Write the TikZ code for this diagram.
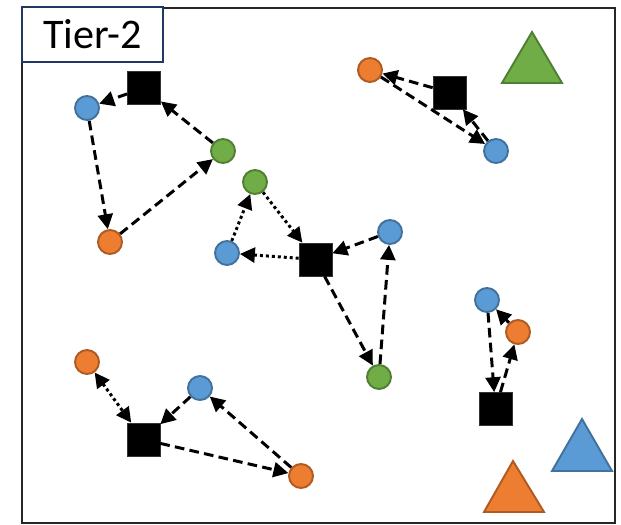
\documentclass[tikz,border=0pt]{standalone}
\usepackage{fontspec}
\newfontfamily\tierfont{Carlito}
\usetikzlibrary{arrows.meta}
\definecolor{ueblue}{HTML}{5B9BD5}
\definecolor{ueblueline}{HTML}{41719C}
\definecolor{ueorange}{HTML}{ED7D31}
\definecolor{ueorangeline}{HTML}{AE5A21}
\definecolor{uegreen}{HTML}{70AD47}
\definecolor{uegreenline}{HTML}{507E32}
\definecolor{tierline}{HTML}{1F3864}

\begin{document}
\begin{tikzpicture}
[x=0.02cm,y=-0.02cm,>={Triangle[length=8.5pt,width=8.5pt]},
ue/.style={circle,draw,line width=1.1pt,inner sep=0pt,minimum size=0.48cm},
blue/.style={ue,fill=ueblue,draw=ueblueline},
orange/.style={ue,fill=ueorange,draw=ueorangeline},
green/.style={ue,fill=uegreen,draw=uegreenline},
relay/.style={rectangle,fill=black,draw=black!80,inner sep=0pt,minimum size=0.66cm},
link/.style={->,line width=1.7pt,dash pattern=on 5.5pt off 3pt},
dlink/.style={->,line width=1.7pt,dash pattern=on 1.7pt off 1.7pt},
bs/.style={line width=1.1pt,line join=miter},]

\useasboundingbox (0,0) rectangle (621,524);

%Frame and tier label
\draw[line width=1.2pt,black!85] (22,8) rectangle (615,523);
\node (tier) at (92.5,34.5)[draw=tierline,fill=white,line width=0.8pt,minimum width=2.82cm,minimum height=1.1cm] {\tierfont\fontsize{24}{24}\selectfont Tier-2};

%Base stations
\draw[bs,fill=uegreen,draw=uegreenline] (502,83) -- (532,32) -- (562,83) -- cycle;
\draw[bs,fill=ueblue,draw=ueblueline] (552,471) -- (582,419) -- (612,471) -- cycle;
\draw[bs,fill=ueorange,draw=ueorangeline] (484,512) -- (513,461) -- (544,512) -- cycle;

%Group A
\node (R1) at (144,88)[relay] {};
\node (B1) at (87,108)[blue] {};
\node (O1) at (110,242)[orange] {};
\node (G1) at (223,151)[green] {};
\draw[link] (R1) -- (B1);
\draw[link] (B1) -- (O1);
\draw[link] (O1) -- (G1);
\draw[link] (G1) -- (R1);

%Group B
\node (R2) at (315.5,259.5)[relay] {};
\node (G2) at (255,182)[green] {};
\node (B2) at (227,253)[blue] {};
\node (B3) at (390,232)[blue] {};
\node (G3) at (379,377)[green] {};
\draw[dlink] (B2) -- (G2);
\draw[dlink] (G2) -- (R2);
\draw[dlink] (R2) -- (B2);
\draw[link] (B3) -- (R2);
\draw[link] (R2) -- (G3);
\draw[link] (G3) -- (B3);

%Group C
\node (R3) at (449.5,92.5)[relay] {};
\node (O3) at (370,70)[orange] {};
\node (B4) at (496,151)[blue] {};
\draw[link] (R3) -- (O3);
\draw[link] (O3) -- (B4);
\draw[link] (B4) -- (R3);

%Group D
\node (R4) at (495.5,409)[relay] {};
\node (B5) at (487,300)[blue] {};
\node (O4) at (518,332)[orange] {};
\draw[link] (B5) -- (R4);
\draw[link] (R4) -- (O4);
\draw[link] (O4) -- (B5);

%Group E
\node (R5) at (143.5,439.5)[relay] {};
\node (O5) at (87,362)[orange] {};
\node (B6) at (200,388)[blue] {};
\node (O6) at (301,476)[orange] {};
\draw[dlink,<->] (O5) -- (R5);
\draw[link] (B6) -- (R5);
\draw[link] (R5) -- (O6);
\draw[link] (O6) -- (B6);

\end{tikzpicture}
\end{document}
